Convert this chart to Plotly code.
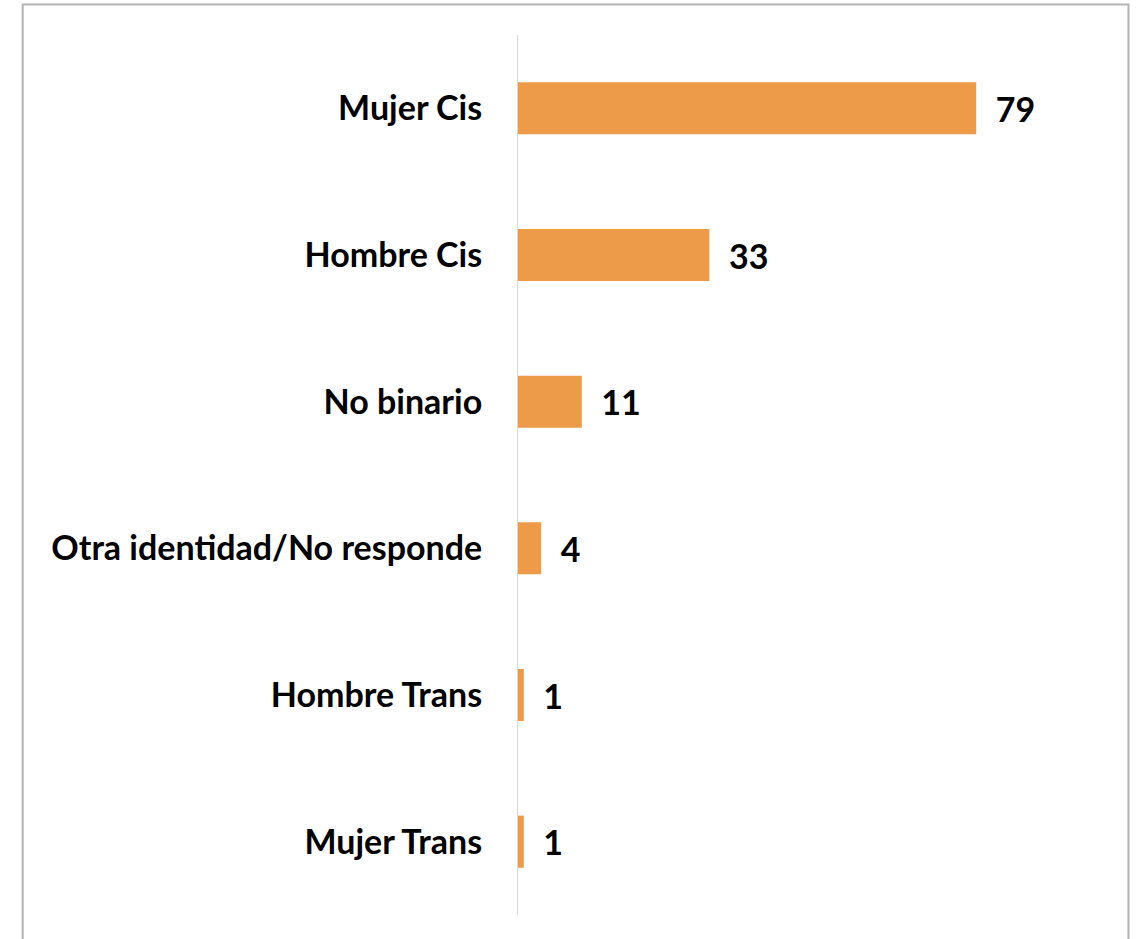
import plotly.graph_objects as go

categorias = ["Mujer Cis", "Hombre Cis", "No binario", "Otra identidad/No responde",
              "Hombre Trans", "Mujer Trans"]
valores = [79, 33, 11, 4, 1, 1]

fig = go.Figure(go.Bar(
    x=valores,
    y=categorias,
    orientation="h",
    marker=dict(color="#ED9B48", line=dict(width=0)),
    text=valores,
    texttemplate="  %{x}",
    textposition="outside",
    textfont=dict(family="Lato", size=34, color="black", weight="bold"),
    cliponaxis=False,
))

# marco gris alrededor del gráfico
fig.add_shape(type="rect", xref="paper", yref="paper",
              x0=-0.854, x1=1.0526, y0=-0.06, y1=1.0347,
              line=dict(color="#b3b3b3", width=2), layer="below")

fig.update_layout(
    width=1138, height=939,
    paper_bgcolor="white", plot_bgcolor="white",
    margin=dict(l=518, r=40, t=35, b=24),
    bargap=0.645,
    showlegend=False,
)
fig.update_xaxes(range=[0, 100], visible=False, showgrid=False, zeroline=False)
fig.update_yaxes(
    autorange="reversed",
    showline=True, linecolor="#d9d9d9", linewidth=1,
    showgrid=False, ticks="",
    ticklabelstandoff=28,
    tickfont=dict(family="Lato", size=34, color="black", weight="bold"),
)

fig.write_html("out.html", config={"displayModeBar": False},
               post_script="document.body.style.margin='0';")
